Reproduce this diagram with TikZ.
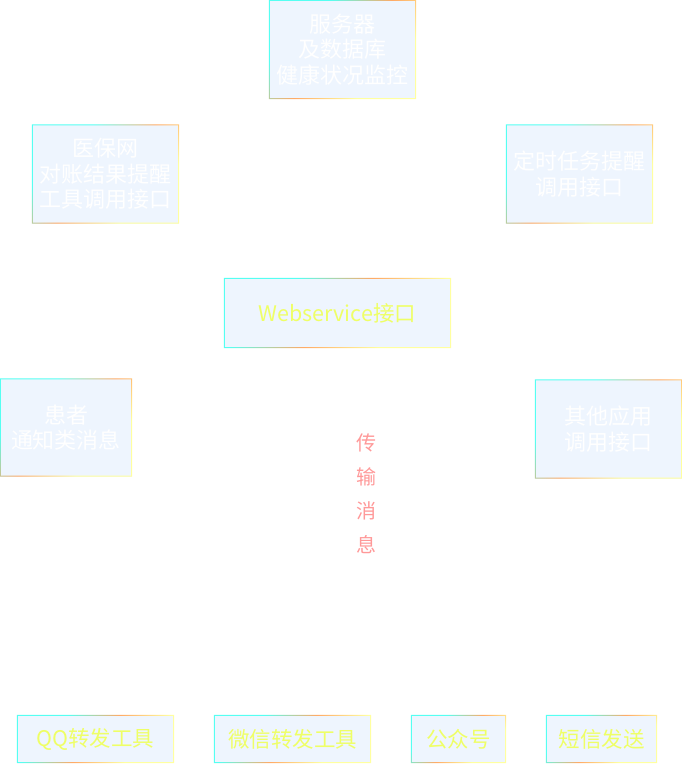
\documentclass[tikz,border=0pt]{standalone}
\usepackage{fontspec}
\setmainfont{Noto Sans CJK SC}
\definecolor{boxfill}{HTML}{EEF5FE}
\definecolor{edgecyan}{HTML}{55FFF2}
\definecolor{edgeorange}{HTML}{FFAA66}
\definecolor{edgeyellow}{HTML}{FFFFA0}
\definecolor{tooltext}{HTML}{EEFF66}
\definecolor{msgtext}{HTML}{FF9999}
\pgfdeclarehorizontalshading{edgefade}{100bp}{color(0bp)=(edgecyan); color(32bp)=(edgecyan); color(50bp)=(edgeorange); color(68bp)=(edgeyellow); color(100bp)=(edgeyellow)}
\tikzset{
  box/.style={fill=boxfill, inner sep=0pt, align=center, text=white,
    font=\fontsize{22}{25.5}\selectfont},
  bigbox/.style={box, minimum width=147pt, minimum height=99pt},
  toolbox/.style={box, minimum height=48pt, text=tooltext,
    font=\fontsize{21.5}{24}\selectfont},
}
\begin{document}
\begin{tikzpicture}[x=1pt,y=-1pt]
\useasboundingbox (0,0) rectangle (683,764);
% upper ring
\node[bigbox] (srv) at (342.5,49.5) {服务器\\及数据库\\健康状况监控};
\node[bigbox] (ybw) at (105.5,174) {医保网\\对账结果提醒\\工具调用接口};
\node[bigbox] (dsr) at (579.5,174) {定时任务提醒\\调用接口};
\node[box, minimum width=227pt, minimum height=70pt, text=tooltext,
  font=\fontsize{21.5}{25.5}\selectfont] (ws) at (337.5,313) {Webservice接口};
\node[box, minimum width=132pt, minimum height=98pt] (hz) at (66,427.5) {患者\\通知类消息};
\node[bigbox] (qt) at (608.5,429) {其他应用\\调用接口};
% middle label
\node[align=center, text=msgtext, font=\fontsize{20}{34}\selectfont] (msg) at (366,494) {传\\输\\消\\息};
% senders
\node[toolbox, minimum width=157pt] (qq) at (95.5,739) {QQ转发工具};
\node[toolbox, minimum width=157pt] (wx) at (292.5,739) {微信转发工具};
\node[toolbox, minimum width=95pt] (gzh) at (458.5,739) {公众号};
\node[toolbox, minimum width=111pt] (dx) at (601.5,739) {短信发送};
% gradient edges
\foreach \n in {srv,ybw,dsr,ws,hz,qt,qq,wx,gzh,dx}
  \shade[shading=edgefade, shading angle=-45, even odd rule]
    (\n.north west) rectangle (\n.south east)
    ([shift={(1,1)}]\n.north west) rectangle ([shift={(-1,-1)}]\n.south east);
\end{tikzpicture}
\end{document}
